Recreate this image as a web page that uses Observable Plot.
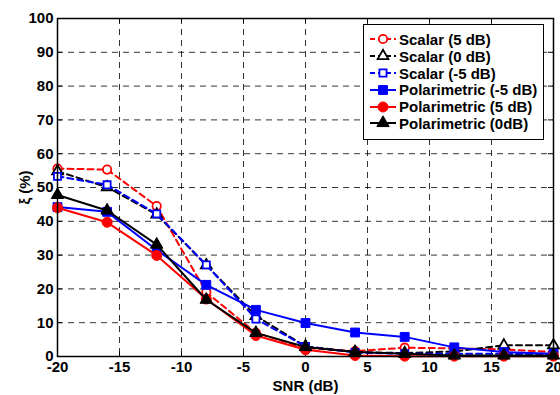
<!DOCTYPE html>
<html>
<head>
<meta charset="utf-8">
<script src="https://cdn.jsdelivr.net/npm/d3@7"></script>
<script src="https://cdn.jsdelivr.net/npm/@observablehq/plot@0.6"></script>
<style>
  html, body { margin: 0; padding: 0; background: #fff; }
  #wrap { position: relative; width: 560px; height: 395px; overflow: hidden; }
  #legend { position: absolute; background: #fff; border: 1px solid #000; box-sizing: border-box; }
  .row { display: flex; align-items: center; height: 16.8px; font: bold 15px "Liberation Sans", Arial, sans-serif; color: #000; white-space: nowrap; }
  .row svg { flex: none; }
</style>
</head>
<body>
<div id="wrap"></div>
<script>
// ---- data ----
const snr = [-20, -16, -12, -8, -4, 0, 4, 8, 12, 16, 20];
const scalar5  = [55.6, 55.3, 44.5, 19.0, 7.0, 2.5, 1.6, 2.6, 2.4, 2.1, 1.3];
const scalar0  = [54.8, 50.1, 42.0, 27.0, 12.0, 3.0, 1.3, 1.0, 1.5, 3.3, 3.3];
const scalarM5 = [53.3, 50.8, 42.2, 27.1, 11.1, 3.0, 1.2, 0.8, 0.8, 0.8, 0.6];
const polM5    = [44.2, 42.8, 31.5, 21.2, 13.8, 9.9, 7.1, 5.8, 2.7, 1.3, 0.8];
const pol5     = [44.0, 39.7, 29.9, 17.0, 6.2, 2.0, 0.3, 0.1, 0.1, 0.1, 0.1];
const pol0     = [47.8, 43.2, 33.1, 16.8, 7.0, 2.8, 1.3, 0.8, 0.3, 0.3, 0.3];
const seriesNames = ["Scalar (5 dB)", "Scalar (0 dB)", "Scalar (-5 dB)", "Polarimetric (-5 dB)", "Polarimetric (5 dB)", "Polarimetric (0dB)"];
const xTicks = [-20, -15, -10, -5, 0, 5, 10, 15, 20];
const yTicks = [0, 10, 20, 30, 40, 50, 60, 70, 80, 90, 100];

// ---- styles ----
const styles = [
  {values: scalar5,  color: "#ff0000", symbol: "circle",   dashed: true,  open: true,  r: 4.2},
  {values: scalar0,  color: "#000000", symbol: "triangle", dashed: true,  open: true,  r: 4.0},
  {values: scalarM5, color: "#0000ff", symbol: "square",   dashed: true,  open: true,  r: 4.0},
  {values: polM5,    color: "#0000ff", symbol: "square",   dashed: false, open: false, r: 5.0},
  {values: pol5,     color: "#ff0000", symbol: "circle",   dashed: false, open: false, r: 5.0},
  {values: pol0,     color: "#000000", symbol: "triangle", dashed: false, open: false, r: 4.6}
];

const seriesMarks = [];
styles.forEach((s, i) => {
  const data = snr.map((x, j) => ({x, y: s.values[j]}));
  seriesMarks.push(Plot.line(data, {x: "x", y: "y", stroke: s.color, strokeWidth: 2,
    strokeDasharray: s.dashed ? "6,4" : null}));
  seriesMarks.push(Plot.dot(data, {x: "x", y: "y", symbol: s.symbol, r: s.r,
    fill: s.open ? "white" : s.color, stroke: s.color, strokeWidth: s.open ? 1.8 : 1}));
});

const font = '"Liberation Sans", Arial, sans-serif';
const chart = Plot.plot({
  width: 560, height: 395,
  marginLeft: 57, marginRight: 7, marginTop: 18, marginBottom: 39,
  style: {fontFamily: font, fontWeight: "bold", fontSize: "15px", color: "#000", background: "white"},
  x: {domain: [-20, 20]},
  y: {domain: [0, 100]},
  marks: [
    Plot.gridX(xTicks, {stroke: "#000", strokeOpacity: 1, strokeWidth: 0.8, strokeDasharray: "6,5"}),
    Plot.gridY(yTicks, {stroke: "#000", strokeOpacity: 1, strokeWidth: 0.8, strokeDasharray: "6,5"}),
    Plot.ruleX(xTicks, {y1: 0, y2: 1.4, stroke: "#000"}),
    Plot.ruleX(xTicks, {y1: 98.6, y2: 100, stroke: "#000"}),
    Plot.ruleY(yTicks, {x1: -20, x2: -19.6, stroke: "#000"}),
    Plot.ruleY(yTicks, {x1: 19.6, x2: 20, stroke: "#000"}),
    Plot.axisX({ticks: xTicks, tickSize: 0, tickPadding: 5, tickFormat: d => String(d),
      label: "SNR (dB)", labelAnchor: "center", labelArrow: "none", labelOffset: 34}),
    Plot.axisY({ticks: yTicks, tickSize: 0, tickPadding: 4, tickFormat: d => String(d),
      label: "ξ (%)", labelAnchor: "center", labelArrow: "none", labelOffset: 38}),
    ...seriesMarks,
    Plot.frame({stroke: "#000", strokeWidth: 1.5})
  ]
});

const wrap = document.getElementById("wrap");
wrap.appendChild(chart);

// ---- legend (inside axes, top-right) ----
const legend = document.createElement("div");
legend.id = "legend";
Object.assign(legend.style, {left: "363px", top: "24px", width: "181px", height: "116px", padding: "6px 0 0 4px"});
styles.forEach((s, i) => {
  const row = document.createElement("div");
  row.className = "row";
  const svg = d3.create("svg").attr("width", 30).attr("height", 16);
  svg.append("line").attr("x1", 2).attr("x2", 28).attr("y1", 8).attr("y2", 8)
    .attr("stroke", s.color).attr("stroke-width", 2)
    .attr("stroke-dasharray", s.dashed ? "5,3" : null);
  const sym = {circle: d3.symbolCircle, triangle: d3.symbolTriangle, square: d3.symbolSquare}[s.symbol];
  svg.append("path").attr("transform", "translate(15,8)")
    .attr("d", d3.symbol(sym, Math.PI * s.r * s.r)())
    .attr("fill", s.open ? "white" : s.color).attr("stroke", s.color)
    .attr("stroke-width", s.open ? 1.8 : 1);
  row.appendChild(svg.node());
  const t = document.createElement("span");
  t.textContent = seriesNames[i];
  t.style.marginLeft = "1px";
  row.appendChild(t);
  legend.appendChild(row);
});
wrap.appendChild(legend);
</script>
</body>
</html>
